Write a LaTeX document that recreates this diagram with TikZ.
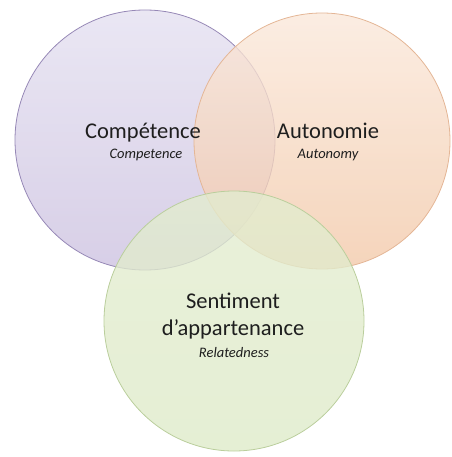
\documentclass[tikz,border=0pt]{standalone}
\usepackage{fontspec}
\setmainfont{Carlito}
\definecolor{purpT}{RGB}{228,224,240}
\definecolor{purpB}{RGB}{204,193,224}
\definecolor{purpL}{RGB}{150,136,182}
\definecolor{oranT}{RGB}{250,232,218}
\definecolor{oranB}{RGB}{242,200,168}
\definecolor{oranL}{RGB}{228,182,150}
\definecolor{greeT}{RGB}{226,237,207}
\definecolor{greeB}{RGB}{222,234,200}
\definecolor{greeL}{RGB}{186,206,156}
\definecolor{txt}{RGB}{30,30,30}
\begin{document}
\begin{tikzpicture}[x=1pt,y=-1pt,
  venn/.style={circle,minimum size=#1,inner sep=0pt,line width=0.8pt,fill opacity=0.78},
  big/.style={font=\fontsize{22.5}{27}\selectfont,text=txt,align=center,inner sep=0pt},
  small/.style={font=\fontsize{14.5}{16}\itshape,text=txt,inner sep=0pt}]
\useasboundingbox (0,0) rectangle (451,457);
\node[venn=260pt,draw=purpL,top color=purpT,bottom color=purpB] (cP) at (145,140) {};
\node[venn=256pt,draw=oranL,top color=oranT,bottom color=oranB] (cA) at (322,141) {};
\node[venn=260pt,draw=greeL,top color=greeT,bottom color=greeB] (cG) at (234,321) {};
\node[big] (tP) at (143,133) {Compétence};
\node[small] (sP) at (146,155) {Competence};
\node[big] (tA) at (328,131) {Autonomie};
\node[small] (sA) at (328,155) {Autonomy};
\node[big] (tG) at (233,316) {Sentiment\\d’appartenance};
\node[small] (sG) at (234,353) {Relatedness};
\end{tikzpicture}
\end{document}
